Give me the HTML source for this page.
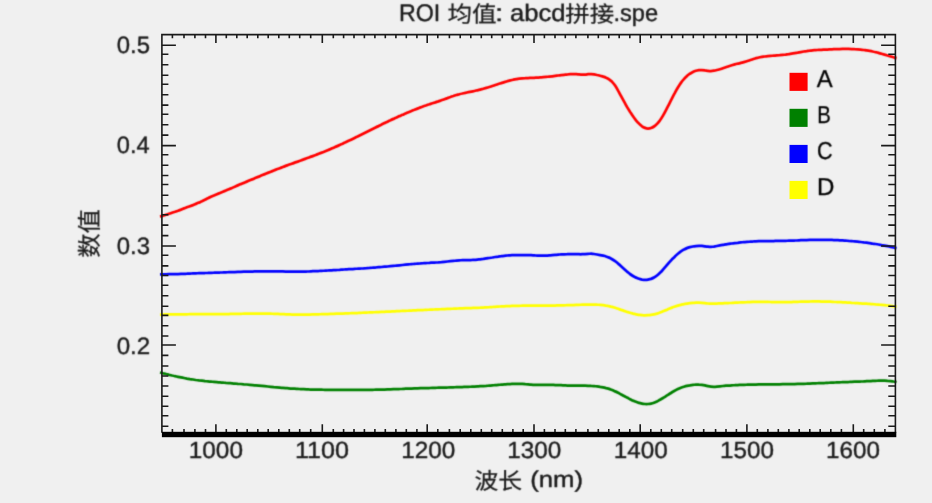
<!DOCTYPE html>
<html lang="zh-CN">
<head>
<meta charset="utf-8">
<title>ROI 均值: abcd拼接.spe</title>
<style>
html,body{margin:0;padding:0;background:#f0f0f0;overflow:hidden;}
body{width:932px;height:503px;}
svg{display:block;}
text{font-family:"Liberation Sans","Noto Sans CJK SC",sans-serif;font-size:25.2px;stroke-linejoin:round;text-rendering:geometricPrecision;}
.lbl{fill:#1c1c1c;stroke:#1c1c1c;stroke-width:0.4px;}
.leg{fill:#000000;stroke:#000000;stroke-width:0.3px;}
.cjk{stroke-width:0.25px;}
.ax{stroke:#1a1a1a;fill:none;}
.cv{fill:none;stroke-width:2.75;stroke-linejoin:round;stroke-linecap:butt;}
</style>
</head>
<body>
<svg width="932" height="503" viewBox="0 0 932 503">
<rect x="0" y="0" width="932" height="503" fill="#f0f0f0"/>
<defs><filter id="soft2" x="0" y="0" width="932" height="503" filterUnits="userSpaceOnUse" color-interpolation-filters="sRGB"><feConvolveMatrix order="3" kernelMatrix="3 14 3 14 65 14 3 14 3" edgeMode="duplicate" preserveAlpha="false"/></filter><filter id="soft" x="0" y="0" width="932" height="503" filterUnits="userSpaceOnUse" color-interpolation-filters="sRGB"><feConvolveMatrix order="3" kernelMatrix="1 4 1 4 16 4 1 4 1" edgeMode="duplicate" preserveAlpha="false"/></filter></defs>
<g>
<g id="curves" filter="url(#soft2)">
<path class="cv" stroke="#ff0000" d="M160.0 216.6C160.5 216.5 162.0 216.0 163.0 215.7C164.0 215.4 165.0 215.1 166.0 214.8C167.0 214.5 168.0 214.2 169.0 213.8C170.0 213.5 171.0 213.2 172.0 212.8C173.0 212.5 174.0 212.1 175.0 211.8C176.0 211.4 177.0 211.0 178.0 210.7C179.0 210.3 180.0 209.9 181.0 209.6C182.0 209.2 183.0 208.8 184.0 208.4C184.9 208.1 185.9 207.7 186.9 207.3C187.9 206.9 188.9 206.6 189.9 206.2C190.9 205.8 191.9 205.4 192.9 205.1C193.9 204.7 194.9 204.3 195.9 203.9C196.9 203.5 197.9 203.1 198.9 202.6C199.9 202.2 200.9 201.7 201.9 201.3C202.9 200.8 203.9 200.3 204.9 199.8C205.9 199.3 206.9 198.7 207.9 198.2C208.9 197.8 209.9 197.3 210.9 196.8C211.9 196.3 212.9 195.9 213.9 195.5C214.9 195.0 215.9 194.6 216.9 194.2C217.9 193.8 218.9 193.4 219.9 193.0C220.9 192.5 221.9 192.1 222.9 191.7C223.9 191.3 224.9 190.9 225.9 190.5C226.9 190.1 227.9 189.6 228.9 189.2C229.9 188.8 230.9 188.4 231.9 188.0C232.9 187.5 233.8 187.1 234.8 186.7C235.8 186.3 236.8 185.8 237.8 185.4C238.8 185.0 239.8 184.6 240.8 184.1C241.8 183.7 242.8 183.3 243.8 182.9C244.8 182.5 245.8 182.0 246.8 181.6C247.8 181.2 248.8 180.8 249.8 180.3C250.8 179.9 251.8 179.5 252.8 179.1C253.8 178.7 254.8 178.2 255.8 177.8C256.8 177.4 257.8 177.0 258.8 176.6C259.8 176.2 260.8 175.7 261.8 175.3C262.8 174.9 263.8 174.5 264.8 174.1C265.8 173.7 266.8 173.3 267.8 172.9C268.8 172.5 269.8 172.1 270.8 171.7C271.8 171.3 272.8 170.9 273.8 170.5C274.8 170.1 275.8 169.7 276.8 169.3C277.8 168.9 278.8 168.6 279.8 168.2C280.8 167.8 281.8 167.4 282.8 167.0C283.7 166.7 284.7 166.3 285.7 165.9C286.7 165.5 287.7 165.2 288.7 164.8C289.7 164.4 290.7 164.1 291.7 163.7C292.7 163.4 293.7 163.0 294.7 162.6C295.7 162.3 296.7 161.9 297.7 161.6C298.7 161.2 299.7 160.8 300.7 160.5C301.7 160.1 302.7 159.7 303.7 159.4C304.7 159.0 305.7 158.7 306.7 158.3C307.7 157.9 308.7 157.6 309.7 157.2C310.7 156.8 311.7 156.5 312.7 156.1C313.7 155.7 314.7 155.3 315.7 155.0C316.7 154.6 317.7 154.2 318.7 153.8C319.7 153.4 320.7 153.0 321.7 152.6C322.7 152.3 323.7 151.9 324.7 151.5C325.7 151.1 326.7 150.7 327.7 150.2C328.7 149.8 329.7 149.4 330.7 149.0C331.7 148.6 332.6 148.1 333.6 147.7C334.6 147.3 335.6 146.8 336.6 146.4C337.6 146.0 338.6 145.5 339.6 145.0C340.6 144.6 341.6 144.1 342.6 143.7C343.6 143.2 344.6 142.7 345.6 142.3C346.6 141.8 347.6 141.3 348.6 140.8C349.6 140.4 350.6 139.9 351.6 139.4C352.6 138.9 353.6 138.4 354.6 137.9C355.6 137.4 356.6 136.9 357.6 136.5C358.6 136.0 359.6 135.5 360.6 135.0C361.6 134.5 362.6 134.0 363.6 133.5C364.6 133.0 365.6 132.5 366.6 132.0C367.6 131.5 368.6 131.0 369.6 130.5C370.6 130.0 371.6 129.5 372.6 129.0C373.6 128.5 374.6 128.0 375.6 127.5C376.6 127.0 377.6 126.5 378.6 126.1C379.6 125.6 380.6 125.1 381.5 124.6C382.5 124.1 383.5 123.6 384.5 123.1C385.5 122.7 386.5 122.2 387.5 121.7C388.5 121.2 389.5 120.7 390.5 120.3C391.5 119.8 392.5 119.3 393.5 118.9C394.5 118.4 395.5 117.9 396.5 117.5C397.5 117.0 398.5 116.6 399.5 116.1C400.5 115.7 401.5 115.2 402.5 114.8C403.5 114.4 404.5 113.9 405.5 113.5C406.5 113.1 407.5 112.6 408.5 112.2C409.5 111.8 410.5 111.4 411.5 111.0C412.5 110.6 413.5 110.1 414.5 109.8C415.5 109.4 416.5 109.0 417.5 108.6C418.5 108.2 419.5 107.8 420.5 107.4C421.5 107.1 422.5 106.7 423.5 106.3C424.5 106.0 425.5 105.6 426.5 105.3C427.5 104.9 428.5 104.6 429.5 104.3C430.4 104.0 431.4 103.6 432.4 103.3C433.4 103.0 434.4 102.7 435.4 102.4C436.4 102.0 437.4 101.7 438.4 101.4C439.4 101.0 440.4 100.7 441.4 100.3C442.4 99.9 443.4 99.6 444.4 99.2C445.4 98.8 446.4 98.4 447.4 98.1C448.4 97.7 449.4 97.3 450.4 97.0C451.4 96.6 452.4 96.3 453.4 96.0C454.4 95.6 455.4 95.3 456.4 95.0C457.4 94.7 458.4 94.5 459.4 94.2C460.4 93.9 461.4 93.7 462.4 93.5C463.4 93.2 464.4 93.0 465.4 92.8C466.4 92.6 467.4 92.4 468.4 92.2C469.4 92.0 470.4 91.8 471.4 91.6C472.4 91.4 473.4 91.2 474.4 91.0C475.4 90.8 476.4 90.6 477.4 90.3C478.4 90.1 479.3 89.9 480.3 89.6C481.3 89.3 482.3 89.1 483.3 88.8C484.3 88.5 485.3 88.2 486.3 87.9C487.3 87.6 488.3 87.3 489.3 87.0C490.3 86.7 491.3 86.4 492.3 86.0C493.3 85.7 494.3 85.4 495.3 85.0C496.3 84.7 497.3 84.4 498.3 84.0C499.3 83.7 500.3 83.4 501.3 83.1C502.3 82.8 503.3 82.4 504.3 82.1C505.3 81.8 506.3 81.5 507.3 81.2C508.3 81.0 509.3 80.7 510.3 80.4C511.3 80.2 512.3 80.0 513.3 79.7C514.3 79.5 515.3 79.3 516.3 79.1C517.3 79.0 518.3 78.8 519.3 78.7C520.3 78.6 521.3 78.5 522.3 78.4C523.3 78.3 524.3 78.2 525.3 78.2C526.3 78.1 527.3 78.1 528.2 78.0C529.2 78.0 530.2 77.9 531.2 77.9C532.2 77.9 533.2 77.8 534.2 77.8C535.2 77.7 536.2 77.7 537.2 77.6C538.2 77.6 539.2 77.5 540.2 77.4C541.2 77.4 542.2 77.3 543.2 77.2C544.2 77.1 545.2 77.0 546.2 76.9C547.2 76.8 548.2 76.7 549.2 76.6C550.2 76.5 551.2 76.4 552.2 76.3C553.2 76.2 554.2 76.0 555.2 75.9C556.2 75.8 557.2 75.6 558.2 75.5C559.2 75.4 560.2 75.2 561.2 75.1C562.2 75.0 563.2 74.9 564.2 74.8C565.2 74.7 566.2 74.5 567.2 74.5C568.2 74.4 569.2 74.3 570.2 74.2C571.2 74.2 572.2 74.1 573.2 74.1C574.2 74.1 575.2 74.1 576.2 74.1C577.2 74.2 578.1 74.3 579.1 74.3C580.1 74.4 581.1 74.5 582.1 74.5C583.1 74.6 584.1 74.6 585.1 74.5C586.1 74.5 587.1 74.3 588.1 74.2C589.1 74.1 590.1 74.0 591.1 74.0C592.1 74.0 593.1 74.1 594.1 74.3C595.1 74.5 596.1 74.7 597.1 75.0C598.1 75.2 599.1 75.5 600.1 75.8C601.1 76.1 602.1 76.3 603.1 76.6C604.1 76.9 605.1 77.2 606.1 77.7C607.1 78.1 608.1 78.6 609.1 79.3C610.1 80.0 611.1 80.8 612.1 81.8C613.1 82.9 614.1 84.1 615.1 85.6C616.1 87.1 617.1 88.8 618.1 90.6C619.1 92.3 620.1 94.3 621.1 96.2C622.1 98.0 623.1 99.9 624.1 101.7C625.1 103.5 626.1 105.2 627.0 106.9C628.0 108.6 629.0 110.2 630.0 111.8C631.0 113.3 632.0 114.9 633.0 116.3C634.0 117.7 635.0 119.0 636.0 120.3C637.0 121.5 638.0 122.7 639.0 123.6C640.0 124.6 641.0 125.5 642.0 126.3C643.0 127.0 644.0 127.5 645.0 127.9C646.0 128.3 647.0 128.5 648.0 128.5C649.0 128.5 650.0 128.4 651.0 128.0C652.0 127.7 653.0 127.2 654.0 126.5C655.0 125.8 656.0 125.0 657.0 123.9C658.0 122.9 659.0 121.6 660.0 120.3C661.0 118.9 662.0 117.3 663.0 115.6C664.0 113.9 665.0 112.0 666.0 110.1C667.0 108.2 668.0 106.2 669.0 104.3C670.0 102.3 671.0 100.3 672.0 98.4C673.0 96.4 674.0 94.5 675.0 92.7C675.9 90.9 676.9 89.1 677.9 87.5C678.9 85.9 679.9 84.3 680.9 82.9C681.9 81.5 682.9 80.2 683.9 79.1C684.9 77.9 685.9 76.9 686.9 76.1C687.9 75.2 688.9 74.4 689.9 73.7C690.9 73.1 691.9 72.5 692.9 72.0C693.9 71.5 694.9 71.1 695.9 70.8C696.9 70.5 697.9 70.3 698.9 70.1C699.9 70.0 700.9 70.0 701.9 70.0C702.9 70.0 703.9 70.2 704.9 70.4C705.9 70.5 706.9 70.8 707.9 70.9C708.9 71.0 709.9 71.1 710.9 71.1C711.9 71.1 712.9 70.9 713.9 70.7C714.9 70.6 715.9 70.3 716.9 70.0C717.9 69.8 718.9 69.5 719.9 69.2C720.9 68.9 721.9 68.6 722.9 68.2C723.9 67.9 724.8 67.6 725.8 67.2C726.8 66.9 727.8 66.5 728.8 66.2C729.8 65.9 730.8 65.6 731.8 65.3C732.8 65.0 733.8 64.7 734.8 64.4C735.8 64.1 736.8 63.9 737.8 63.7C738.8 63.4 739.8 63.2 740.8 62.9C741.8 62.7 742.8 62.4 743.8 62.1C744.8 61.8 745.8 61.5 746.8 61.2C747.8 60.9 748.8 60.5 749.8 60.2C750.8 59.9 751.8 59.5 752.8 59.2C753.8 58.9 754.8 58.5 755.8 58.2C756.8 58.0 757.8 57.7 758.8 57.5C759.8 57.3 760.8 57.1 761.8 56.9C762.8 56.8 763.8 56.6 764.8 56.5C765.8 56.4 766.8 56.3 767.8 56.2C768.8 56.1 769.8 56.0 770.8 55.9C771.8 55.8 772.8 55.7 773.8 55.6C774.7 55.6 775.7 55.5 776.7 55.4C777.7 55.3 778.7 55.2 779.7 55.2C780.7 55.1 781.7 55.0 782.7 54.9C783.7 54.8 784.7 54.7 785.7 54.6C786.7 54.4 787.7 54.3 788.7 54.2C789.7 54.0 790.7 53.9 791.7 53.7C792.7 53.6 793.7 53.4 794.7 53.2C795.7 53.0 796.7 52.8 797.7 52.7C798.7 52.5 799.7 52.3 800.7 52.1C801.7 51.9 802.7 51.7 803.7 51.5C804.7 51.4 805.7 51.2 806.7 51.1C807.7 50.9 808.7 50.8 809.7 50.7C810.7 50.5 811.7 50.4 812.7 50.3C813.7 50.2 814.7 50.2 815.7 50.1C816.7 50.0 817.7 50.0 818.7 49.9C819.7 49.8 820.7 49.8 821.7 49.8C822.7 49.7 823.6 49.7 824.6 49.6C825.6 49.6 826.6 49.5 827.6 49.5C828.6 49.5 829.6 49.4 830.6 49.4C831.6 49.3 832.6 49.3 833.6 49.2C834.6 49.2 835.6 49.2 836.6 49.1C837.6 49.1 838.6 49.0 839.6 49.0C840.6 49.0 841.6 49.0 842.6 48.9C843.6 48.9 844.6 48.9 845.6 48.9C846.6 48.9 847.6 48.9 848.6 48.9C849.6 49.0 850.6 49.0 851.6 49.0C852.6 49.1 853.6 49.1 854.6 49.2C855.6 49.2 856.6 49.3 857.6 49.4C858.6 49.5 859.6 49.6 860.6 49.7C861.6 49.8 862.6 49.9 863.6 50.0C864.6 50.1 865.6 50.3 866.6 50.4C867.6 50.6 868.6 50.8 869.6 50.9C870.6 51.1 871.6 51.3 872.5 51.5C873.5 51.7 874.5 51.9 875.5 52.2C876.5 52.4 877.5 52.6 878.5 52.9C879.5 53.2 880.5 53.4 881.5 53.7C882.5 54.0 883.5 54.3 884.5 54.6C885.5 54.9 886.5 55.2 887.5 55.5C888.5 55.8 889.5 56.1 890.5 56.4C891.5 56.7 892.5 57.0 893.5 57.3C894.5 57.6 896.0 58.1 896.5 58.2"/>
<path class="cv" stroke="#008000" d="M160.0 372.5C160.5 372.6 162.0 373.0 163.0 373.3C164.0 373.5 165.0 373.8 166.0 374.0C167.0 374.3 168.0 374.5 169.0 374.8C170.0 375.0 171.0 375.2 172.0 375.5C173.0 375.7 174.0 375.9 175.0 376.2C176.0 376.4 177.0 376.6 178.0 376.8C179.0 377.0 180.0 377.2 181.0 377.4C182.0 377.6 183.0 377.8 184.0 378.0C184.9 378.2 185.9 378.4 186.9 378.6C187.9 378.7 188.9 378.9 189.9 379.1C190.9 379.2 191.9 379.4 192.9 379.5C193.9 379.7 194.9 379.8 195.9 380.0C196.9 380.1 197.9 380.2 198.9 380.4C199.9 380.5 200.9 380.6 201.9 380.7C202.9 380.8 203.9 380.9 204.9 381.1C205.9 381.2 206.9 381.3 207.9 381.4C208.9 381.5 209.9 381.6 210.9 381.6C211.9 381.7 212.9 381.8 213.9 381.9C214.9 382.0 215.9 382.1 216.9 382.2C217.9 382.3 218.9 382.3 219.9 382.4C220.9 382.5 221.9 382.6 222.9 382.6C223.9 382.7 224.9 382.8 225.9 382.9C226.9 382.9 227.9 383.0 228.9 383.1C229.9 383.2 230.9 383.2 231.9 383.3C232.9 383.4 233.8 383.5 234.8 383.5C235.8 383.6 236.8 383.7 237.8 383.8C238.8 383.8 239.8 383.9 240.8 384.0C241.8 384.1 242.8 384.2 243.8 384.3C244.8 384.3 245.8 384.4 246.8 384.5C247.8 384.6 248.8 384.7 249.8 384.8C250.8 384.9 251.8 385.0 252.8 385.1C253.8 385.2 254.8 385.3 255.8 385.3C256.8 385.4 257.8 385.5 258.8 385.6C259.8 385.7 260.8 385.8 261.8 385.9C262.8 386.0 263.8 386.1 264.8 386.2C265.8 386.3 266.8 386.4 267.8 386.5C268.8 386.6 269.8 386.7 270.8 386.8C271.8 386.9 272.8 387.0 273.8 387.1C274.8 387.1 275.8 387.2 276.8 387.3C277.8 387.4 278.8 387.5 279.8 387.6C280.8 387.7 281.8 387.8 282.8 387.8C283.7 387.9 284.7 388.0 285.7 388.1C286.7 388.2 287.7 388.2 288.7 388.3C289.7 388.4 290.7 388.5 291.7 388.5C292.7 388.6 293.7 388.7 294.7 388.7C295.7 388.8 296.7 388.9 297.7 388.9C298.7 389.0 299.7 389.0 300.7 389.1C301.7 389.1 302.7 389.2 303.7 389.2C304.7 389.3 305.7 389.3 306.7 389.3C307.7 389.4 308.7 389.4 309.7 389.5C310.7 389.5 311.7 389.5 312.7 389.5C313.7 389.6 314.7 389.6 315.7 389.6C316.7 389.6 317.7 389.7 318.7 389.7C319.7 389.7 320.7 389.7 321.7 389.7C322.7 389.7 323.7 389.8 324.7 389.8C325.7 389.8 326.7 389.8 327.7 389.8C328.7 389.8 329.7 389.8 330.7 389.8C331.7 389.8 332.6 389.8 333.6 389.8C334.6 389.9 335.6 389.9 336.6 389.9C337.6 389.9 338.6 389.9 339.6 389.9C340.6 389.9 341.6 389.9 342.6 389.9C343.6 389.9 344.6 389.9 345.6 389.9C346.6 389.9 347.6 389.9 348.6 389.9C349.6 389.9 350.6 389.9 351.6 389.9C352.6 389.9 353.6 389.9 354.6 389.9C355.6 389.9 356.6 389.9 357.6 389.9C358.6 389.9 359.6 389.9 360.6 389.9C361.6 389.9 362.6 389.9 363.6 389.9C364.6 389.8 365.6 389.8 366.6 389.8C367.6 389.8 368.6 389.8 369.6 389.8C370.6 389.8 371.6 389.8 372.6 389.8C373.6 389.8 374.6 389.7 375.6 389.7C376.6 389.7 377.6 389.7 378.6 389.7C379.6 389.7 380.6 389.6 381.5 389.6C382.5 389.6 383.5 389.6 384.5 389.5C385.5 389.5 386.5 389.5 387.5 389.4C388.5 389.4 389.5 389.4 390.5 389.3C391.5 389.3 392.5 389.3 393.5 389.2C394.5 389.2 395.5 389.1 396.5 389.1C397.5 389.1 398.5 389.0 399.5 389.0C400.5 388.9 401.5 388.9 402.5 388.9C403.5 388.8 404.5 388.8 405.5 388.7C406.5 388.7 407.5 388.7 408.5 388.6C409.5 388.6 410.5 388.6 411.5 388.5C412.5 388.5 413.5 388.5 414.5 388.4C415.5 388.4 416.5 388.4 417.5 388.3C418.5 388.3 419.5 388.3 420.5 388.2C421.5 388.2 422.5 388.2 423.5 388.1C424.5 388.1 425.5 388.1 426.5 388.1C427.5 388.0 428.5 388.0 429.5 388.0C430.4 387.9 431.4 387.9 432.4 387.9C433.4 387.9 434.4 387.8 435.4 387.8C436.4 387.8 437.4 387.7 438.4 387.7C439.4 387.7 440.4 387.7 441.4 387.6C442.4 387.6 443.4 387.6 444.4 387.6C445.4 387.5 446.4 387.5 447.4 387.5C448.4 387.4 449.4 387.4 450.4 387.4C451.4 387.4 452.4 387.3 453.4 387.3C454.4 387.3 455.4 387.2 456.4 387.2C457.4 387.2 458.4 387.1 459.4 387.1C460.4 387.1 461.4 387.0 462.4 387.0C463.4 387.0 464.4 386.9 465.4 386.9C466.4 386.9 467.4 386.8 468.4 386.8C469.4 386.8 470.4 386.7 471.4 386.7C472.4 386.6 473.4 386.6 474.4 386.5C475.4 386.5 476.4 386.5 477.4 386.4C478.4 386.4 479.3 386.3 480.3 386.2C481.3 386.2 482.3 386.1 483.3 386.1C484.3 386.0 485.3 385.9 486.3 385.9C487.3 385.8 488.3 385.7 489.3 385.6C490.3 385.6 491.3 385.5 492.3 385.4C493.3 385.3 494.3 385.2 495.3 385.1C496.3 385.1 497.3 385.0 498.3 384.9C499.3 384.8 500.3 384.7 501.3 384.6C502.3 384.6 503.3 384.5 504.3 384.4C505.3 384.3 506.3 384.3 507.3 384.2C508.3 384.1 509.3 384.1 510.3 384.0C511.3 384.0 512.3 383.9 513.3 383.9C514.3 383.8 515.3 383.8 516.3 383.8C517.3 383.8 518.3 383.8 519.3 383.8C520.3 383.8 521.3 383.9 522.3 383.9C523.3 384.0 524.3 384.1 525.3 384.2C526.3 384.2 527.3 384.3 528.2 384.4C529.2 384.5 530.2 384.6 531.2 384.6C532.2 384.7 533.2 384.8 534.2 384.8C535.2 384.8 536.2 384.9 537.2 384.9C538.2 384.9 539.2 384.9 540.2 384.9C541.2 384.9 542.2 384.9 543.2 384.9C544.2 384.9 545.2 384.9 546.2 384.9C547.2 384.9 548.2 384.9 549.2 384.9C550.2 384.9 551.2 384.9 552.2 384.9C553.2 384.9 554.2 385.0 555.2 385.0C556.2 385.0 557.2 385.1 558.2 385.1C559.2 385.2 560.2 385.2 561.2 385.2C562.2 385.3 563.2 385.3 564.2 385.4C565.2 385.4 566.2 385.5 567.2 385.5C568.2 385.6 569.2 385.6 570.2 385.6C571.2 385.7 572.2 385.7 573.2 385.7C574.2 385.7 575.2 385.7 576.2 385.7C577.2 385.7 578.1 385.7 579.1 385.7C580.1 385.7 581.1 385.7 582.1 385.7C583.1 385.7 584.1 385.7 585.1 385.7C586.1 385.7 587.1 385.7 588.1 385.8C589.1 385.8 590.1 385.8 591.1 385.9C592.1 385.9 593.1 386.0 594.1 386.1C595.1 386.2 596.1 386.3 597.1 386.4C598.1 386.5 599.1 386.6 600.1 386.8C601.1 386.9 602.1 387.1 603.1 387.3C604.1 387.5 605.1 387.8 606.1 388.1C607.1 388.3 608.1 388.6 609.1 388.9C610.1 389.3 611.1 389.6 612.1 390.0C613.1 390.4 614.1 390.9 615.1 391.4C616.1 391.8 617.1 392.3 618.1 392.8C619.1 393.3 620.1 393.9 621.1 394.4C622.1 394.9 623.1 395.5 624.1 396.0C625.1 396.5 626.1 397.1 627.0 397.6C628.0 398.1 629.0 398.7 630.0 399.2C631.0 399.7 632.0 400.1 633.0 400.6C634.0 401.0 635.0 401.5 636.0 401.8C637.0 402.2 638.0 402.6 639.0 402.9C640.0 403.2 641.0 403.4 642.0 403.6C643.0 403.8 644.0 403.9 645.0 404.0C646.0 404.1 647.0 404.1 648.0 404.0C649.0 403.9 650.0 403.8 651.0 403.6C652.0 403.4 653.0 403.1 654.0 402.7C655.0 402.3 656.0 401.9 657.0 401.4C658.0 400.9 659.0 400.3 660.0 399.8C661.0 399.2 662.0 398.6 663.0 398.0C664.0 397.4 665.0 396.7 666.0 396.1C667.0 395.5 668.0 394.8 669.0 394.2C670.0 393.6 671.0 392.9 672.0 392.3C673.0 391.7 674.0 391.1 675.0 390.6C675.9 390.0 676.9 389.5 677.9 389.0C678.9 388.5 679.9 388.1 680.9 387.7C681.9 387.3 682.9 387.0 683.9 386.7C684.9 386.4 685.9 386.1 686.9 385.9C687.9 385.7 688.9 385.5 689.9 385.4C690.9 385.2 691.9 385.0 692.9 384.9C693.9 384.8 694.9 384.7 695.9 384.6C696.9 384.6 697.9 384.5 698.9 384.6C699.9 384.6 700.9 384.7 701.9 384.8C702.9 385.0 703.9 385.2 704.9 385.4C705.9 385.7 706.9 386.0 707.9 386.2C708.9 386.4 709.9 386.6 710.9 386.7C711.9 386.8 712.9 386.8 713.9 386.8C714.9 386.8 715.9 386.7 716.9 386.6C717.9 386.5 718.9 386.4 719.9 386.3C720.9 386.2 721.9 386.1 722.9 386.0C723.9 385.9 724.8 385.8 725.8 385.7C726.8 385.7 727.8 385.6 728.8 385.5C729.8 385.5 730.8 385.4 731.8 385.3C732.8 385.3 733.8 385.2 734.8 385.2C735.8 385.1 736.8 385.1 737.8 385.0C738.8 385.0 739.8 384.9 740.8 384.9C741.8 384.8 742.8 384.8 743.8 384.8C744.8 384.7 745.8 384.7 746.8 384.7C747.8 384.6 748.8 384.6 749.8 384.6C750.8 384.6 751.8 384.6 752.8 384.5C753.8 384.5 754.8 384.5 755.8 384.5C756.8 384.5 757.8 384.5 758.8 384.4C759.8 384.4 760.8 384.4 761.8 384.4C762.8 384.4 763.8 384.4 764.8 384.4C765.8 384.4 766.8 384.4 767.8 384.4C768.8 384.3 769.8 384.3 770.8 384.3C771.8 384.3 772.8 384.3 773.8 384.3C774.7 384.3 775.7 384.3 776.7 384.3C777.7 384.3 778.7 384.3 779.7 384.3C780.7 384.2 781.7 384.2 782.7 384.2C783.7 384.2 784.7 384.2 785.7 384.2C786.7 384.2 787.7 384.2 788.7 384.1C789.7 384.1 790.7 384.1 791.7 384.1C792.7 384.1 793.7 384.0 794.7 384.0C795.7 384.0 796.7 384.0 797.7 383.9C798.7 383.9 799.7 383.9 800.7 383.8C801.7 383.8 802.7 383.8 803.7 383.8C804.7 383.7 805.7 383.7 806.7 383.7C807.7 383.6 808.7 383.6 809.7 383.5C810.7 383.5 811.7 383.5 812.7 383.4C813.7 383.4 814.7 383.4 815.7 383.3C816.7 383.3 817.7 383.2 818.7 383.2C819.7 383.2 820.7 383.1 821.7 383.1C822.7 383.0 823.6 383.0 824.6 383.0C825.6 382.9 826.6 382.9 827.6 382.8C828.6 382.8 829.6 382.7 830.6 382.7C831.6 382.7 832.6 382.6 833.6 382.6C834.6 382.5 835.6 382.5 836.6 382.4C837.6 382.4 838.6 382.4 839.6 382.3C840.6 382.3 841.6 382.2 842.6 382.2C843.6 382.2 844.6 382.1 845.6 382.1C846.6 382.0 847.6 382.0 848.6 382.0C849.6 381.9 850.6 381.9 851.6 381.8C852.6 381.8 853.6 381.8 854.6 381.7C855.6 381.7 856.6 381.6 857.6 381.6C858.6 381.6 859.6 381.5 860.6 381.5C861.6 381.4 862.6 381.4 863.6 381.4C864.6 381.3 865.6 381.3 866.6 381.2C867.6 381.2 868.6 381.1 869.6 381.1C870.6 381.0 871.6 381.0 872.5 380.9C873.5 380.9 874.5 380.8 875.5 380.8C876.5 380.8 877.5 380.7 878.5 380.7C879.5 380.7 880.5 380.7 881.5 380.7C882.5 380.7 883.5 380.7 884.5 380.7C885.5 380.7 886.5 380.8 887.5 380.9C888.5 380.9 889.5 381.0 890.5 381.1C891.5 381.2 892.5 381.3 893.5 381.5C894.5 381.6 896.0 381.9 896.5 382.0"/>
<path class="cv" stroke="#0000ff" d="M160.0 274.3C160.5 274.3 162.0 274.3 163.0 274.3C164.0 274.3 165.0 274.3 166.0 274.3C167.0 274.3 168.0 274.3 169.0 274.2C170.0 274.2 171.0 274.2 172.0 274.2C173.0 274.2 174.0 274.1 175.0 274.1C176.0 274.1 177.0 274.1 178.0 274.0C179.0 274.0 180.0 274.0 181.0 273.9C182.0 273.9 183.0 273.8 184.0 273.8C184.9 273.8 185.9 273.7 186.9 273.7C187.9 273.6 188.9 273.6 189.9 273.6C190.9 273.5 191.9 273.5 192.9 273.4C193.9 273.4 194.9 273.4 195.9 273.3C196.9 273.3 197.9 273.2 198.9 273.2C199.9 273.2 200.9 273.1 201.9 273.1C202.9 273.0 203.9 273.0 204.9 273.0C205.9 272.9 206.9 272.9 207.9 272.9C208.9 272.8 209.9 272.8 210.9 272.8C211.9 272.7 212.9 272.7 213.9 272.7C214.9 272.6 215.9 272.6 216.9 272.6C217.9 272.5 218.9 272.5 219.9 272.5C220.9 272.4 221.9 272.4 222.9 272.4C223.9 272.3 224.9 272.3 225.9 272.3C226.9 272.3 227.9 272.2 228.9 272.2C229.9 272.2 230.9 272.1 231.9 272.1C232.9 272.1 233.8 272.0 234.8 272.0C235.8 272.0 236.8 272.0 237.8 271.9C238.8 271.9 239.8 271.9 240.8 271.8C241.8 271.8 242.8 271.8 243.8 271.7C244.8 271.7 245.8 271.7 246.8 271.7C247.8 271.6 248.8 271.6 249.8 271.6C250.8 271.5 251.8 271.5 252.8 271.5C253.8 271.5 254.8 271.4 255.8 271.4C256.8 271.4 257.8 271.4 258.8 271.4C259.8 271.3 260.8 271.3 261.8 271.3C262.8 271.3 263.8 271.3 264.8 271.3C265.8 271.3 266.8 271.3 267.8 271.3C268.8 271.3 269.8 271.3 270.8 271.3C271.8 271.3 272.8 271.3 273.8 271.3C274.8 271.3 275.8 271.3 276.8 271.3C277.8 271.3 278.8 271.4 279.8 271.4C280.8 271.4 281.8 271.4 282.8 271.4C283.7 271.5 284.7 271.5 285.7 271.5C286.7 271.5 287.7 271.6 288.7 271.6C289.7 271.6 290.7 271.6 291.7 271.6C292.7 271.6 293.7 271.6 294.7 271.6C295.7 271.6 296.7 271.6 297.7 271.6C298.7 271.6 299.7 271.6 300.7 271.6C301.7 271.6 302.7 271.5 303.7 271.5C304.7 271.5 305.7 271.5 306.7 271.5C307.7 271.4 308.7 271.4 309.7 271.4C310.7 271.3 311.7 271.3 312.7 271.2C313.7 271.2 314.7 271.2 315.7 271.1C316.7 271.1 317.7 271.0 318.7 271.0C319.7 270.9 320.7 270.9 321.7 270.8C322.7 270.8 323.7 270.7 324.7 270.7C325.7 270.6 326.7 270.6 327.7 270.5C328.7 270.4 329.7 270.4 330.7 270.3C331.7 270.3 332.6 270.2 333.6 270.1C334.6 270.1 335.6 270.0 336.6 270.0C337.6 269.9 338.6 269.8 339.6 269.8C340.6 269.7 341.6 269.7 342.6 269.6C343.6 269.5 344.6 269.5 345.6 269.4C346.6 269.3 347.6 269.3 348.6 269.2C349.6 269.2 350.6 269.1 351.6 269.0C352.6 269.0 353.6 268.9 354.6 268.8C355.6 268.8 356.6 268.7 357.6 268.7C358.6 268.6 359.6 268.5 360.6 268.5C361.6 268.4 362.6 268.3 363.6 268.3C364.6 268.2 365.6 268.1 366.6 268.1C367.6 268.0 368.6 267.9 369.6 267.9C370.6 267.8 371.6 267.7 372.6 267.7C373.6 267.6 374.6 267.5 375.6 267.5C376.6 267.4 377.6 267.3 378.6 267.2C379.6 267.1 380.6 267.1 381.5 267.0C382.5 266.9 383.5 266.8 384.5 266.7C385.5 266.6 386.5 266.6 387.5 266.5C388.5 266.4 389.5 266.3 390.5 266.2C391.5 266.1 392.5 266.0 393.5 265.9C394.5 265.8 395.5 265.7 396.5 265.6C397.5 265.5 398.5 265.4 399.5 265.3C400.5 265.2 401.5 265.1 402.5 265.0C403.5 264.9 404.5 264.8 405.5 264.7C406.5 264.6 407.5 264.5 408.5 264.4C409.5 264.3 410.5 264.2 411.5 264.1C412.5 264.0 413.5 264.0 414.5 263.9C415.5 263.8 416.5 263.7 417.5 263.6C418.5 263.5 419.5 263.4 420.5 263.4C421.5 263.3 422.5 263.2 423.5 263.2C424.5 263.1 425.5 263.0 426.5 263.0C427.5 262.9 428.5 262.8 429.5 262.8C430.4 262.7 431.4 262.7 432.4 262.6C433.4 262.6 434.4 262.5 435.4 262.5C436.4 262.4 437.4 262.3 438.4 262.3C439.4 262.2 440.4 262.1 441.4 262.1C442.4 262.0 443.4 261.9 444.4 261.8C445.4 261.7 446.4 261.6 447.4 261.5C448.4 261.4 449.4 261.3 450.4 261.2C451.4 261.1 452.4 261.0 453.4 260.9C454.4 260.8 455.4 260.7 456.4 260.6C457.4 260.5 458.4 260.4 459.4 260.3C460.4 260.3 461.4 260.2 462.4 260.2C463.4 260.2 464.4 260.1 465.4 260.1C466.4 260.1 467.4 260.1 468.4 260.1C469.4 260.0 470.4 260.0 471.4 260.0C472.4 259.9 473.4 259.9 474.4 259.8C475.4 259.8 476.4 259.7 477.4 259.6C478.4 259.5 479.3 259.4 480.3 259.3C481.3 259.1 482.3 259.0 483.3 258.9C484.3 258.7 485.3 258.6 486.3 258.4C487.3 258.3 488.3 258.1 489.3 258.0C490.3 257.8 491.3 257.6 492.3 257.5C493.3 257.3 494.3 257.2 495.3 257.0C496.3 256.9 497.3 256.7 498.3 256.6C499.3 256.4 500.3 256.3 501.3 256.2C502.3 256.0 503.3 255.9 504.3 255.8C505.3 255.7 506.3 255.6 507.3 255.5C508.3 255.4 509.3 255.4 510.3 255.3C511.3 255.2 512.3 255.2 513.3 255.1C514.3 255.1 515.3 255.1 516.3 255.0C517.3 255.0 518.3 255.0 519.3 255.0C520.3 255.0 521.3 255.0 522.3 255.0C523.3 255.0 524.3 255.0 525.3 255.0C526.3 255.0 527.3 255.1 528.2 255.1C529.2 255.1 530.2 255.2 531.2 255.2C532.2 255.3 533.2 255.4 534.2 255.4C535.2 255.5 536.2 255.5 537.2 255.6C538.2 255.6 539.2 255.7 540.2 255.7C541.2 255.7 542.2 255.7 543.2 255.7C544.2 255.6 545.2 255.6 546.2 255.5C547.2 255.5 548.2 255.4 549.2 255.3C550.2 255.3 551.2 255.2 552.2 255.1C553.2 255.0 554.2 254.9 555.2 254.8C556.2 254.8 557.2 254.7 558.2 254.6C559.2 254.5 560.2 254.5 561.2 254.4C562.2 254.4 563.2 254.3 564.2 254.3C565.2 254.2 566.2 254.2 567.2 254.2C568.2 254.1 569.2 254.1 570.2 254.1C571.2 254.1 572.2 254.1 573.2 254.1C574.2 254.1 575.2 254.2 576.2 254.2C577.2 254.2 578.1 254.2 579.1 254.2C580.1 254.3 581.1 254.3 582.1 254.2C583.1 254.2 584.1 254.1 585.1 254.1C586.1 254.0 587.1 253.9 588.1 253.8C589.1 253.8 590.1 253.7 591.1 253.7C592.1 253.8 593.1 253.9 594.1 254.0C595.1 254.1 596.1 254.3 597.1 254.5C598.1 254.7 599.1 254.9 600.1 255.1C601.1 255.3 602.1 255.5 603.1 255.7C604.1 255.9 605.1 256.1 606.1 256.5C607.1 256.8 608.1 257.2 609.1 257.6C610.1 258.1 611.1 258.6 612.1 259.2C613.1 259.8 614.1 260.5 615.1 261.2C616.1 261.9 617.1 262.7 618.1 263.6C619.1 264.4 620.1 265.3 621.1 266.2C622.1 267.1 623.1 268.0 624.1 268.9C625.1 269.8 626.1 270.7 627.0 271.6C628.0 272.4 629.0 273.2 630.0 274.0C631.0 274.7 632.0 275.4 633.0 276.0C634.0 276.6 635.0 277.2 636.0 277.6C637.0 278.1 638.0 278.5 639.0 278.8C640.0 279.2 641.0 279.4 642.0 279.6C643.0 279.7 644.0 279.8 645.0 279.8C646.0 279.8 647.0 279.8 648.0 279.6C649.0 279.4 650.0 279.2 651.0 278.9C652.0 278.5 653.0 278.1 654.0 277.5C655.0 277.0 656.0 276.3 657.0 275.5C658.0 274.7 659.0 273.8 660.0 272.8C661.0 271.9 662.0 270.8 663.0 269.6C664.0 268.5 665.0 267.3 666.0 266.2C667.0 265.0 668.0 263.8 669.0 262.6C670.0 261.5 671.0 260.4 672.0 259.3C673.0 258.3 674.0 257.3 675.0 256.4C675.9 255.4 676.9 254.5 677.9 253.7C678.9 252.9 679.9 252.1 680.9 251.4C681.9 250.7 682.9 250.1 683.9 249.6C684.9 249.0 685.9 248.5 686.9 248.1C687.9 247.7 688.9 247.4 689.9 247.1C690.9 246.9 691.9 246.7 692.9 246.5C693.9 246.3 694.9 246.2 695.9 246.1C696.9 246.0 697.9 245.9 698.9 245.8C699.9 245.8 700.9 245.8 701.9 245.9C702.9 246.0 703.9 246.2 704.9 246.3C705.9 246.5 706.9 246.7 707.9 246.7C708.9 246.8 709.9 246.9 710.9 246.9C711.9 246.8 712.9 246.7 713.9 246.6C714.9 246.4 715.9 246.2 716.9 246.0C717.9 245.8 718.9 245.6 719.9 245.4C720.9 245.3 721.9 245.1 722.9 244.9C723.9 244.7 724.8 244.6 725.8 244.4C726.8 244.2 727.8 244.1 728.8 243.9C729.8 243.8 730.8 243.6 731.8 243.5C732.8 243.4 733.8 243.2 734.8 243.1C735.8 243.0 736.8 242.9 737.8 242.8C738.8 242.6 739.8 242.5 740.8 242.4C741.8 242.3 742.8 242.2 743.8 242.1C744.8 242.1 745.8 242.0 746.8 241.9C747.8 241.8 748.8 241.7 749.8 241.7C750.8 241.6 751.8 241.5 752.8 241.5C753.8 241.4 754.8 241.4 755.8 241.3C756.8 241.3 757.8 241.3 758.8 241.2C759.8 241.2 760.8 241.2 761.8 241.1C762.8 241.1 763.8 241.1 764.8 241.1C765.8 241.1 766.8 241.0 767.8 241.0C768.8 241.0 769.8 241.0 770.8 241.0C771.8 241.0 772.8 241.0 773.8 241.0C774.7 241.0 775.7 240.9 776.7 240.9C777.7 240.9 778.7 240.9 779.7 240.9C780.7 240.9 781.7 240.9 782.7 240.8C783.7 240.8 784.7 240.8 785.7 240.8C786.7 240.8 787.7 240.7 788.7 240.7C789.7 240.7 790.7 240.6 791.7 240.6C792.7 240.6 793.7 240.5 794.7 240.5C795.7 240.4 796.7 240.4 797.7 240.4C798.7 240.3 799.7 240.3 800.7 240.2C801.7 240.2 802.7 240.2 803.7 240.1C804.7 240.1 805.7 240.1 806.7 240.0C807.7 240.0 808.7 240.0 809.7 239.9C810.7 239.9 811.7 239.9 812.7 239.9C813.7 239.8 814.7 239.8 815.7 239.8C816.7 239.8 817.7 239.8 818.7 239.8C819.7 239.8 820.7 239.8 821.7 239.8C822.7 239.8 823.6 239.8 824.6 239.8C825.6 239.8 826.6 239.8 827.6 239.8C828.6 239.9 829.6 239.9 830.6 239.9C831.6 239.9 832.6 240.0 833.6 240.0C834.6 240.0 835.6 240.1 836.6 240.1C837.6 240.2 838.6 240.2 839.6 240.3C840.6 240.3 841.6 240.4 842.6 240.4C843.6 240.5 844.6 240.6 845.6 240.6C846.6 240.7 847.6 240.8 848.6 240.9C849.6 240.9 850.6 241.0 851.6 241.1C852.6 241.2 853.6 241.3 854.6 241.4C855.6 241.5 856.6 241.6 857.6 241.7C858.6 241.8 859.6 241.9 860.6 242.0C861.6 242.1 862.6 242.2 863.6 242.4C864.6 242.5 865.6 242.6 866.6 242.7C867.6 242.9 868.6 243.0 869.6 243.1C870.6 243.3 871.6 243.4 872.5 243.6C873.5 243.7 874.5 243.9 875.5 244.0C876.5 244.2 877.5 244.4 878.5 244.5C879.5 244.7 880.5 244.9 881.5 245.1C882.5 245.2 883.5 245.4 884.5 245.6C885.5 245.8 886.5 246.0 887.5 246.2C888.5 246.4 889.5 246.6 890.5 246.9C891.5 247.1 892.5 247.3 893.5 247.5C894.5 247.7 896.0 248.1 896.5 248.2"/>
<path class="cv" stroke="#ffff00" d="M160.0 314.5C160.5 314.5 162.0 314.5 163.0 314.5C164.0 314.4 165.0 314.4 166.0 314.4C167.0 314.4 168.0 314.4 169.0 314.4C170.0 314.4 171.0 314.4 172.0 314.4C173.0 314.3 174.0 314.3 175.0 314.3C176.0 314.3 177.0 314.3 178.0 314.3C179.0 314.3 180.0 314.3 181.0 314.3C182.0 314.3 183.0 314.3 184.0 314.3C184.9 314.3 185.9 314.3 186.9 314.3C187.9 314.3 188.9 314.2 189.9 314.2C190.9 314.2 191.9 314.2 192.9 314.2C193.9 314.2 194.9 314.2 195.9 314.2C196.9 314.2 197.9 314.2 198.9 314.2C199.9 314.2 200.9 314.2 201.9 314.2C202.9 314.2 203.9 314.2 204.9 314.2C205.9 314.2 206.9 314.2 207.9 314.2C208.9 314.2 209.9 314.1 210.9 314.1C211.9 314.1 212.9 314.1 213.9 314.1C214.9 314.1 215.9 314.1 216.9 314.1C217.9 314.1 218.9 314.1 219.9 314.1C220.9 314.1 221.9 314.1 222.9 314.0C223.9 314.0 224.9 314.0 225.9 314.0C226.9 314.0 227.9 314.0 228.9 314.0C229.9 314.0 230.9 313.9 231.9 313.9C232.9 313.9 233.8 313.9 234.8 313.9C235.8 313.9 236.8 313.8 237.8 313.8C238.8 313.8 239.8 313.8 240.8 313.8C241.8 313.8 242.8 313.7 243.8 313.7C244.8 313.7 245.8 313.7 246.8 313.7C247.8 313.7 248.8 313.6 249.8 313.6C250.8 313.6 251.8 313.6 252.8 313.6C253.8 313.6 254.8 313.6 255.8 313.6C256.8 313.6 257.8 313.5 258.8 313.5C259.8 313.5 260.8 313.5 261.8 313.6C262.8 313.6 263.8 313.6 264.8 313.6C265.8 313.6 266.8 313.6 267.8 313.6C268.8 313.6 269.8 313.7 270.8 313.7C271.8 313.7 272.8 313.8 273.8 313.8C274.8 313.8 275.8 313.9 276.8 313.9C277.8 313.9 278.8 314.0 279.8 314.0C280.8 314.1 281.8 314.1 282.8 314.2C283.7 314.2 284.7 314.3 285.7 314.3C286.7 314.3 287.7 314.4 288.7 314.4C289.7 314.4 290.7 314.5 291.7 314.5C292.7 314.5 293.7 314.5 294.7 314.6C295.7 314.6 296.7 314.6 297.7 314.6C298.7 314.6 299.7 314.6 300.7 314.6C301.7 314.6 302.7 314.6 303.7 314.6C304.7 314.6 305.7 314.6 306.7 314.5C307.7 314.5 308.7 314.5 309.7 314.5C310.7 314.5 311.7 314.5 312.7 314.4C313.7 314.4 314.7 314.4 315.7 314.4C316.7 314.3 317.7 314.3 318.7 314.3C319.7 314.3 320.7 314.2 321.7 314.2C322.7 314.2 323.7 314.2 324.7 314.1C325.7 314.1 326.7 314.1 327.7 314.0C328.7 314.0 329.7 314.0 330.7 313.9C331.7 313.9 332.6 313.9 333.6 313.8C334.6 313.8 335.6 313.8 336.6 313.7C337.6 313.7 338.6 313.7 339.6 313.6C340.6 313.6 341.6 313.6 342.6 313.5C343.6 313.5 344.6 313.5 345.6 313.4C346.6 313.4 347.6 313.3 348.6 313.3C349.6 313.3 350.6 313.2 351.6 313.2C352.6 313.2 353.6 313.1 354.6 313.1C355.6 313.0 356.6 313.0 357.6 313.0C358.6 312.9 359.6 312.9 360.6 312.8C361.6 312.8 362.6 312.7 363.6 312.7C364.6 312.7 365.6 312.6 366.6 312.6C367.6 312.5 368.6 312.5 369.6 312.4C370.6 312.4 371.6 312.4 372.6 312.3C373.6 312.3 374.6 312.2 375.6 312.2C376.6 312.1 377.6 312.1 378.6 312.0C379.6 312.0 380.6 312.0 381.5 311.9C382.5 311.9 383.5 311.8 384.5 311.8C385.5 311.7 386.5 311.7 387.5 311.6C388.5 311.6 389.5 311.5 390.5 311.5C391.5 311.5 392.5 311.4 393.5 311.4C394.5 311.3 395.5 311.3 396.5 311.2C397.5 311.2 398.5 311.1 399.5 311.1C400.5 311.0 401.5 311.0 402.5 310.9C403.5 310.9 404.5 310.8 405.5 310.8C406.5 310.8 407.5 310.7 408.5 310.7C409.5 310.6 410.5 310.6 411.5 310.5C412.5 310.5 413.5 310.4 414.5 310.4C415.5 310.3 416.5 310.3 417.5 310.2C418.5 310.2 419.5 310.1 420.5 310.1C421.5 310.1 422.5 310.0 423.5 310.0C424.5 309.9 425.5 309.9 426.5 309.8C427.5 309.8 428.5 309.7 429.5 309.7C430.4 309.6 431.4 309.6 432.4 309.6C433.4 309.5 434.4 309.5 435.4 309.4C436.4 309.4 437.4 309.3 438.4 309.3C439.4 309.3 440.4 309.2 441.4 309.2C442.4 309.1 443.4 309.1 444.4 309.0C445.4 309.0 446.4 309.0 447.4 308.9C448.4 308.9 449.4 308.8 450.4 308.8C451.4 308.8 452.4 308.7 453.4 308.7C454.4 308.6 455.4 308.6 456.4 308.6C457.4 308.5 458.4 308.5 459.4 308.4C460.4 308.4 461.4 308.4 462.4 308.3C463.4 308.3 464.4 308.3 465.4 308.2C466.4 308.2 467.4 308.1 468.4 308.1C469.4 308.1 470.4 308.0 471.4 308.0C472.4 308.0 473.4 307.9 474.4 307.9C475.4 307.9 476.4 307.8 477.4 307.8C478.4 307.7 479.3 307.7 480.3 307.7C481.3 307.6 482.3 307.6 483.3 307.5C484.3 307.5 485.3 307.4 486.3 307.4C487.3 307.3 488.3 307.2 489.3 307.2C490.3 307.1 491.3 307.0 492.3 307.0C493.3 306.9 494.3 306.9 495.3 306.8C496.3 306.7 497.3 306.7 498.3 306.6C499.3 306.5 500.3 306.5 501.3 306.4C502.3 306.4 503.3 306.3 504.3 306.3C505.3 306.2 506.3 306.2 507.3 306.1C508.3 306.1 509.3 306.0 510.3 306.0C511.3 306.0 512.3 305.9 513.3 305.9C514.3 305.9 515.3 305.9 516.3 305.8C517.3 305.8 518.3 305.8 519.3 305.8C520.3 305.8 521.3 305.7 522.3 305.7C523.3 305.7 524.3 305.7 525.3 305.7C526.3 305.7 527.3 305.7 528.2 305.7C529.2 305.7 530.2 305.7 531.2 305.7C532.2 305.7 533.2 305.7 534.2 305.6C535.2 305.6 536.2 305.6 537.2 305.6C538.2 305.6 539.2 305.6 540.2 305.6C541.2 305.6 542.2 305.6 543.2 305.6C544.2 305.6 545.2 305.6 546.2 305.6C547.2 305.6 548.2 305.5 549.2 305.5C550.2 305.5 551.2 305.5 552.2 305.5C553.2 305.5 554.2 305.5 555.2 305.5C556.2 305.5 557.2 305.4 558.2 305.4C559.2 305.4 560.2 305.4 561.2 305.4C562.2 305.3 563.2 305.3 564.2 305.3C565.2 305.3 566.2 305.2 567.2 305.2C568.2 305.2 569.2 305.2 570.2 305.1C571.2 305.1 572.2 305.1 573.2 305.0C574.2 305.0 575.2 305.0 576.2 304.9C577.2 304.9 578.1 304.8 579.1 304.8C580.1 304.8 581.1 304.7 582.1 304.7C583.1 304.7 584.1 304.6 585.1 304.6C586.1 304.6 587.1 304.6 588.1 304.6C589.1 304.6 590.1 304.5 591.1 304.5C592.1 304.5 593.1 304.5 594.1 304.6C595.1 304.6 596.1 304.6 597.1 304.7C598.1 304.7 599.1 304.8 600.1 304.8C601.1 304.9 602.1 305.0 603.1 305.1C604.1 305.3 605.1 305.4 606.1 305.6C607.1 305.7 608.1 305.9 609.1 306.2C610.1 306.4 611.1 306.7 612.1 306.9C613.1 307.2 614.1 307.5 615.1 307.8C616.1 308.2 617.1 308.5 618.1 308.8C619.1 309.2 620.1 309.5 621.1 309.9C622.1 310.2 623.1 310.5 624.1 310.9C625.1 311.2 626.1 311.6 627.0 311.9C628.0 312.2 629.0 312.5 630.0 312.8C631.0 313.1 632.0 313.3 633.0 313.6C634.0 313.8 635.0 314.1 636.0 314.3C637.0 314.5 638.0 314.6 639.0 314.8C640.0 314.9 641.0 315.1 642.0 315.1C643.0 315.2 644.0 315.3 645.0 315.3C646.0 315.3 647.0 315.3 648.0 315.2C649.0 315.2 650.0 315.1 651.0 314.9C652.0 314.8 653.0 314.6 654.0 314.4C655.0 314.2 656.0 313.9 657.0 313.6C658.0 313.3 659.0 312.9 660.0 312.5C661.0 312.2 662.0 311.8 663.0 311.3C664.0 310.9 665.0 310.5 666.0 310.1C667.0 309.7 668.0 309.2 669.0 308.8C670.0 308.4 671.0 308.0 672.0 307.6C673.0 307.2 674.0 306.9 675.0 306.5C675.9 306.2 676.9 305.9 677.9 305.6C678.9 305.3 679.9 305.0 680.9 304.8C681.9 304.6 682.9 304.3 683.9 304.1C684.9 304.0 685.9 303.8 686.9 303.6C687.9 303.5 688.9 303.3 689.9 303.2C690.9 303.1 691.9 303.0 692.9 302.9C693.9 302.9 694.9 302.8 695.9 302.7C696.9 302.7 697.9 302.7 698.9 302.7C699.9 302.7 700.9 302.7 701.9 302.8C702.9 302.9 703.9 303.0 704.9 303.1C705.9 303.2 706.9 303.4 707.9 303.5C708.9 303.6 709.9 303.6 710.9 303.7C711.9 303.7 712.9 303.7 713.9 303.7C714.9 303.6 715.9 303.6 716.9 303.5C717.9 303.5 718.9 303.4 719.9 303.4C720.9 303.3 721.9 303.3 722.9 303.3C723.9 303.2 724.8 303.2 725.8 303.1C726.8 303.1 727.8 303.0 728.8 303.0C729.8 302.9 730.8 302.9 731.8 302.9C732.8 302.8 733.8 302.8 734.8 302.7C735.8 302.7 736.8 302.6 737.8 302.6C738.8 302.5 739.8 302.5 740.8 302.4C741.8 302.4 742.8 302.3 743.8 302.3C744.8 302.2 745.8 302.2 746.8 302.2C747.8 302.1 748.8 302.1 749.8 302.0C750.8 302.0 751.8 302.0 752.8 301.9C753.8 301.9 754.8 301.9 755.8 301.8C756.8 301.8 757.8 301.8 758.8 301.8C759.8 301.8 760.8 301.8 761.8 301.8C762.8 301.8 763.8 301.8 764.8 301.8C765.8 301.9 766.8 301.9 767.8 301.9C768.8 301.9 769.8 301.9 770.8 302.0C771.8 302.0 772.8 302.0 773.8 302.0C774.7 302.1 775.7 302.1 776.7 302.1C777.7 302.1 778.7 302.1 779.7 302.1C780.7 302.2 781.7 302.2 782.7 302.2C783.7 302.2 784.7 302.2 785.7 302.1C786.7 302.1 787.7 302.1 788.7 302.1C789.7 302.1 790.7 302.0 791.7 302.0C792.7 302.0 793.7 301.9 794.7 301.9C795.7 301.9 796.7 301.8 797.7 301.8C798.7 301.8 799.7 301.7 800.7 301.7C801.7 301.7 802.7 301.6 803.7 301.6C804.7 301.6 805.7 301.5 806.7 301.5C807.7 301.5 808.7 301.5 809.7 301.5C810.7 301.4 811.7 301.4 812.7 301.4C813.7 301.4 814.7 301.4 815.7 301.4C816.7 301.4 817.7 301.4 818.7 301.4C819.7 301.5 820.7 301.5 821.7 301.5C822.7 301.5 823.6 301.5 824.6 301.6C825.6 301.6 826.6 301.6 827.6 301.6C828.6 301.7 829.6 301.7 830.6 301.7C831.6 301.8 832.6 301.8 833.6 301.9C834.6 301.9 835.6 301.9 836.6 302.0C837.6 302.0 838.6 302.1 839.6 302.1C840.6 302.2 841.6 302.2 842.6 302.3C843.6 302.3 844.6 302.4 845.6 302.4C846.6 302.5 847.6 302.6 848.6 302.6C849.6 302.7 850.6 302.7 851.6 302.8C852.6 302.8 853.6 302.9 854.6 303.0C855.6 303.0 856.6 303.1 857.6 303.1C858.6 303.2 859.6 303.3 860.6 303.3C861.6 303.4 862.6 303.5 863.6 303.5C864.6 303.6 865.6 303.6 866.6 303.7C867.6 303.8 868.6 303.8 869.6 303.9C870.6 304.0 871.6 304.1 872.5 304.1C873.5 304.2 874.5 304.3 875.5 304.4C876.5 304.4 877.5 304.5 878.5 304.6C879.5 304.7 880.5 304.8 881.5 304.9C882.5 305.0 883.5 305.1 884.5 305.2C885.5 305.3 886.5 305.4 887.5 305.5C888.5 305.6 889.5 305.8 890.5 305.9C891.5 306.0 892.5 306.1 893.5 306.3C894.5 306.4 896.0 306.6 896.5 306.7"/>
</g>
<g id="axes">
<path class="ax" stroke-width="1.6" d="M172.4 34.6 v3.7M172.4 432.3 v-3.3M184.0 34.6 v3.7M184.0 432.3 v-3.3M194.9 34.6 v3.7M194.9 432.3 v-3.3M205.5 34.6 v3.7M205.5 432.3 v-3.3M215.9 34.6 v8.5M215.9 432.3 v-8.1M226.3 34.6 v3.7M226.3 432.3 v-3.3M236.8 34.6 v3.7M236.8 432.3 v-3.3M247.2 34.6 v3.7M247.2 432.3 v-3.3M257.8 34.6 v3.7M257.8 432.3 v-3.3M268.2 34.6 v3.7M268.2 432.3 v-3.3M278.8 34.6 v3.7M278.8 432.3 v-3.3M289.3 34.6 v3.7M289.3 432.3 v-3.3M299.7 34.6 v3.7M299.7 432.3 v-3.3M310.7 34.6 v3.7M310.7 432.3 v-3.3M322.3 34.6 v8.5M322.3 432.3 v-8.1M333.3 34.6 v3.7M333.3 432.3 v-3.3M343.6 34.6 v3.7M343.6 432.3 v-3.3M354.0 34.6 v3.7M354.0 432.3 v-3.3M364.4 34.6 v3.7M364.4 432.3 v-3.3M374.9 34.6 v3.7M374.9 432.3 v-3.3M385.3 34.6 v3.7M385.3 432.3 v-3.3M395.9 34.6 v3.7M395.9 432.3 v-3.3M406.3 34.6 v3.7M406.3 432.3 v-3.3M416.9 34.6 v3.7M416.9 432.3 v-3.3M427.2 34.6 v8.5M427.2 432.3 v-8.1M437.8 34.6 v3.7M437.8 432.3 v-3.3M449.4 34.6 v3.7M449.4 432.3 v-3.3M460.2 34.6 v3.7M460.2 432.3 v-3.3M470.8 34.6 v3.7M470.8 432.3 v-3.3M481.3 34.6 v3.7M481.3 432.3 v-3.3M491.7 34.6 v3.7M491.7 432.3 v-3.3M502.3 34.6 v3.7M502.3 432.3 v-3.3M512.9 34.6 v3.7M512.9 432.3 v-3.3M523.2 34.6 v3.7M523.2 432.3 v-3.3M534.0 34.6 v8.5M534.0 432.3 v-8.1M544.4 34.6 v3.7M544.4 432.3 v-3.3M555.0 34.6 v3.7M555.0 432.3 v-3.3M565.3 34.6 v3.7M565.3 432.3 v-3.3M575.9 34.6 v3.7M575.9 432.3 v-3.3M587.9 34.6 v3.7M587.9 432.3 v-3.3M598.3 34.6 v3.7M598.3 432.3 v-3.3M608.8 34.6 v3.7M608.8 432.3 v-3.3M619.2 34.6 v3.7M619.2 432.3 v-3.3M629.8 34.6 v3.7M629.8 432.3 v-3.3M640.2 34.6 v8.5M640.2 432.3 v-8.1M650.8 34.6 v3.7M650.8 432.3 v-3.3M661.3 34.6 v3.7M661.3 432.3 v-3.3M671.7 34.6 v3.7M671.7 432.3 v-3.3M682.7 34.6 v3.7M682.7 432.3 v-3.3M693.3 34.6 v3.7M693.3 432.3 v-3.3M703.7 34.6 v3.7M703.7 432.3 v-3.3M715.6 34.6 v3.7M715.6 432.3 v-3.3M726.0 34.6 v3.7M726.0 432.3 v-3.3M736.4 34.6 v3.7M736.4 432.3 v-3.3M746.9 34.6 v8.5M746.9 432.3 v-8.1M757.3 34.6 v3.7M757.3 432.3 v-3.3M767.9 34.6 v3.7M767.9 432.3 v-3.3M778.3 34.6 v3.7M778.3 432.3 v-3.3M788.9 34.6 v3.7M788.9 432.3 v-3.3M799.2 34.6 v3.7M799.2 432.3 v-3.3M809.8 34.6 v3.7M809.8 432.3 v-3.3M820.2 34.6 v3.7M820.2 432.3 v-3.3M830.8 34.6 v3.7M830.8 432.3 v-3.3M841.4 34.6 v3.7M841.4 432.3 v-3.3M853.3 34.6 v8.5M853.3 432.3 v-8.1M863.7 34.6 v3.7M863.7 432.3 v-3.3M874.3 34.6 v3.7M874.3 432.3 v-3.3M884.9 34.6 v3.7M884.9 432.3 v-3.3M161.9 45.2 h14.0M895.4 45.2 h-14.3M161.9 54.3 h6.5M895.4 54.3 h-7.1M161.9 64.7 h6.5M895.4 64.7 h-7.1M161.9 75.3 h6.5M895.4 75.3 h-7.1M161.9 84.3 h6.5M895.4 84.3 h-7.1M161.9 94.7 h6.5M895.4 94.7 h-7.1M161.9 105.1 h6.5M895.4 105.1 h-7.1M161.9 114.3 h6.5M895.4 114.3 h-7.1M161.9 124.7 h6.5M895.4 124.7 h-7.1M161.9 135.1 h6.5M895.4 135.1 h-7.1M161.9 145.6 h14.0M895.4 145.6 h-14.3M161.9 154.7 h6.5M895.4 154.7 h-7.1M161.9 165.2 h6.5M895.4 165.2 h-7.1M161.9 175.5 h6.5M895.4 175.5 h-7.1M161.9 184.5 h6.5M895.4 184.5 h-7.1M161.9 195.3 h6.5M895.4 195.3 h-7.1M161.9 205.8 h6.5M895.4 205.8 h-7.1M161.9 214.7 h6.5M895.4 214.7 h-7.1M161.9 225.1 h6.5M895.4 225.1 h-7.1M161.9 235.6 h6.5M895.4 235.6 h-7.1M161.9 246.0 h14.0M895.4 246.0 h-14.3M161.9 255.3 h6.5M895.4 255.3 h-7.1M161.9 265.9 h6.5M895.4 265.9 h-7.1M161.9 275.5 h6.5M895.4 275.5 h-7.1M161.9 285.3 h6.5M895.4 285.3 h-7.1M161.9 295.8 h6.5M895.4 295.8 h-7.1M161.9 306.2 h6.5M895.4 306.2 h-7.1M161.9 315.4 h6.5M895.4 315.4 h-7.1M161.9 325.7 h6.5M895.4 325.7 h-7.1M161.9 336.0 h6.5M895.4 336.0 h-7.1M161.9 345.0 h14.0M895.4 345.0 h-14.3M161.9 355.4 h6.5M895.4 355.4 h-7.1M161.9 366.0 h6.5M895.4 366.0 h-7.1M161.9 376.0 h6.5M895.4 376.0 h-7.1M161.9 386.0 h6.5M895.4 386.0 h-7.1M161.9 396.3 h6.5M895.4 396.3 h-7.1M161.9 406.3 h6.5M895.4 406.3 h-7.1M161.9 415.7 h6.5M895.4 415.7 h-7.1M161.9 426.2 h6.5M895.4 426.2 h-7.1"/>
<path class="ax" stroke-width="1.6" d="M161.9 432.8 V34.6 H895.4 V432.8"/>
<rect x="161.9" y="431.8" width="734.4" height="5.4" fill="#000"/>
</g>
<g id="legend">
<rect x="789.5" y="72.8" width="18.1" height="18.1" fill="#ff0000"/>
<rect x="789.5" y="108.8" width="18.1" height="18.1" fill="#008000"/>
<rect x="789.5" y="144.9" width="18.1" height="18.1" fill="#0000ff"/>
<rect x="789.5" y="180.9" width="18.1" height="18.1" fill="#ffff00"/>
</g>
<g id="title" filter="url(#soft)">
<text class="lbl"><tspan x="398.95" y="21" font-size="23.96" textLength="41.32" lengthAdjust="spacingAndGlyphs">ROI</tspan> <tspan class="cjk" x="447.44" y="22" font-size="22.28" textLength="49.28" lengthAdjust="spacingAndGlyphs">均值</tspan><tspan x="495.14" y="21" font-size="23.96" textLength="8.31" lengthAdjust="spacingAndGlyphs">:</tspan> <tspan x="509.91" y="21" font-size="23.96" textLength="55.61" lengthAdjust="spacingAndGlyphs">abcd</tspan><tspan class="cjk" x="565.27" y="22" font-size="22.28" textLength="48.88" lengthAdjust="spacingAndGlyphs">拼接</tspan><tspan x="613.46" y="21" font-size="23.96" textLength="44.70" lengthAdjust="spacingAndGlyphs">.spe</tspan></text>
</g>
<g id="xlabels" filter="url(#soft)">
<text class="lbl" transform="translate(188.80 458.00) scale(0.9657 0.9265)">1000</text>
<text class="lbl" transform="translate(294.99 458.00) scale(0.9975 0.9265)">1100</text>
<text class="lbl" transform="translate(401.13 458.00) scale(0.9658 0.9265)">1200</text>
<text class="lbl" transform="translate(507.31 458.00) scale(0.9648 0.9265)">1300</text>
<text class="lbl" transform="translate(613.70 458.00) scale(0.9626 0.9265)">1400</text>
<text class="lbl" transform="translate(720.01 458.00) scale(0.9633 0.9265)">1500</text>
<text class="lbl" transform="translate(826.10 458.00) scale(0.9605 0.9265)">1600</text>
</g>
<g id="ylabels" filter="url(#soft)">
<text class="lbl" transform="translate(116.71 53.00) scale(0.9495 0.9412)">0.5</text>
<text class="lbl" transform="translate(116.74 153.00) scale(0.9381 0.9412)">0.4</text>
<text class="lbl" transform="translate(116.74 254.00) scale(0.9495 0.9412)">0.3</text>
<text class="lbl" transform="translate(116.70 354.00) scale(0.9578 0.9412)">0.2</text>
</g>
<g id="legendlabels" filter="url(#soft)">
<text class="leg" transform="translate(816.80 87.00) scale(0.9466 0.9707)">A</text>
<text class="leg" transform="translate(817.28 123.00) scale(0.8091 0.9707)">B</text>
<text class="leg" transform="translate(816.88 159.00) scale(0.8594 0.9707)">C</text>
<text class="leg" transform="translate(817.03 195.00) scale(0.9553 0.9707)">D</text>
</g>
<g id="xaxislabel" filter="url(#soft)">
<text class="lbl"><tspan class="cjk" x="474.54" y="489" font-size="22.65" textLength="47.65" lengthAdjust="spacingAndGlyphs">波长</tspan> <tspan x="530.25" y="487" font-size="22.78" textLength="52.80" lengthAdjust="spacingAndGlyphs">(nm)</tspan></text>
</g>
<g id="yaxislabel" filter="url(#soft)">
<text class="lbl cjk" transform="translate(98.00 257.84) rotate(-90) scale(0.9680 0.9516)">数值</text>
</g>
</g>
</svg>
</body>
</html>
